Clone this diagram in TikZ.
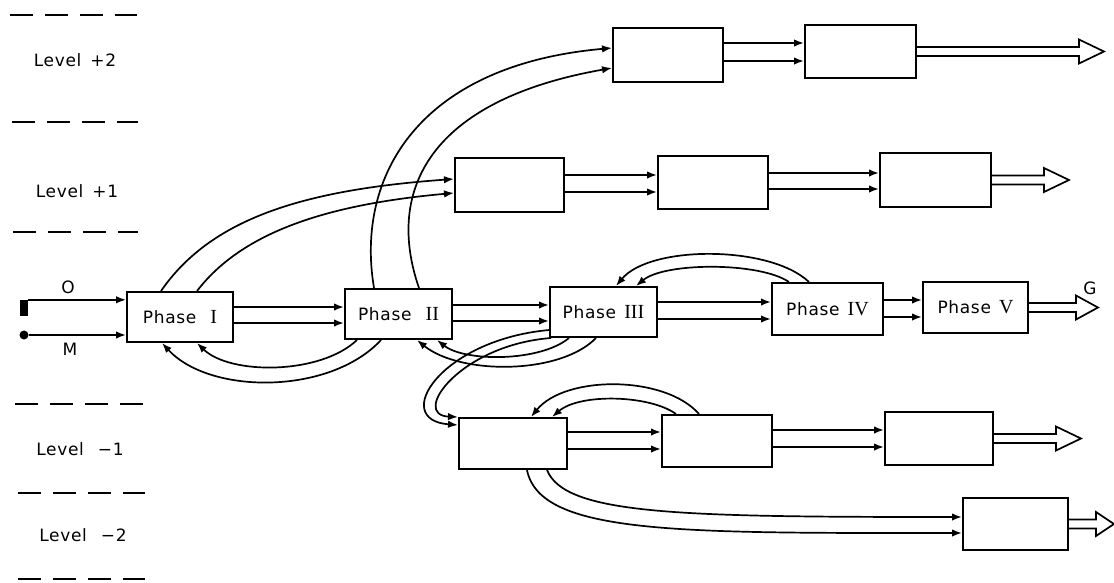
\documentclass[tikz,border=0pt]{standalone}
\usepackage{fontspec}
\setmainfont{DejaVu Sans}[LetterSpace=4]
\newfontfamily\numfont{Liberation Serif}
\usetikzlibrary{arrows.meta,calc}
\newcommand\pairs[4]{%
  \coordinate (s1) at ($(#1.east)+(0,#3)$);
  \coordinate (s2) at ($(#1.east)+(0,#4)$);
  \draw[arr] (s1) -- (s1 -| #2.west);
  \draw[arr] (s2) -- (s2 -| #2.west);}
\newcommand\openarr[3]{%
  \draw[openline] ($(#1.east)+(0,-4.5)$) -- ++(#2,0) -- ++(0,-7.5) -- ++(#3,12)
    -- ++(-#3,12) -- ++(0,-7.5) -- ($(#1.east)+(0,4.5)$);}
\newcommand\rn[1]{{\numfont\fontsize{20}{21}\selectfont #1}}
\begin{document}
\begin{tikzpicture}[x=1pt,y=-1pt,
  box/.style={draw, line width=2pt, inner sep=2pt, font=\fontsize{17}{20}\selectfont},
  arr/.style={line width=1.7pt, -{Latex[length=10pt,width=7.5pt]}},
  openline/.style={line width=1.7pt, line join=miter},
  lvl/.style={line width=1.9pt, dash pattern=on 23pt off 12pt},
  lbl/.style={font=\fontsize{17}{20}\selectfont, inner sep=1pt}]
\useasboundingbox (0,0) rectangle (1114,582);
% level separators and labels
\draw[lvl] (10,15) -- (137,15);
\draw[lvl] (12,122) -- (138,122);
\draw[lvl] (13,232) -- (138,232);
\draw[lvl] (15,404) -- (145,404);
\draw[lvl] (18,493) -- (145,493);
\draw[lvl] (18,579) -- (145,579);
\node[lbl] (L2) at (75,60) {Level \hspace{3pt}+2};
\node[lbl] (L1) at (77,191) {Level \hspace{3pt}+1};
\node[lbl] (Lm1) at (80,449) {Level \hspace{8pt}−1};
\node[lbl] (Lm2) at (83,535) {Level \hspace{8pt}−2};
% phase boxes
\node[box, minimum width=106pt, minimum height=50pt] (P1) at (180,317) {Phase \hspace{8pt}\rn{I}};
\node[box, minimum width=107pt, minimum height=50pt] (P2) at (398.5,314) {Phase \hspace{8pt}\rn{II}};
\node[box, minimum width=107pt, minimum height=50pt] (P3) at (603.5,312) {Phase \hspace{2pt}\rn{III}};
\node[box, minimum width=111pt, minimum height=52pt] (P4) at (827.5,309) {Phase \hspace{2pt}\rn{IV}};
\node[box, minimum width=105pt, minimum height=51pt] (P5) at (975.5,307.5) {Phase \hspace{2pt}\rn{V}};
% other levels
\node[box, minimum width=110pt, minimum height=54pt] (A2) at (668,55) {};
\node[box, minimum width=111pt, minimum height=53pt] (B2) at (860.5,51.5) {};
\node[box, minimum width=109pt, minimum height=54pt] (A1) at (509.5,185) {};
\node[box, minimum width=110pt, minimum height=53pt] (B1) at (713,182.5) {};
\node[box, minimum width=111pt, minimum height=54pt] (C1) at (935.5,180) {};
\node[box, minimum width=108pt, minimum height=51pt] (Am1) at (513,443.5) {};
\node[box, minimum width=110pt, minimum height=52pt] (Bm1) at (717,441) {};
\node[box, minimum width=108pt, minimum height=53pt] (Cm1) at (939,438.5) {};
\node[box, minimum width=105pt, minimum height=52pt] (Dm2) at (1015.5,524) {};
% inputs
\node[fill=black, minimum width=8pt, minimum height=16pt, inner sep=0pt] (src) at (24,308) {};
\node[circle, fill=black, minimum size=9pt, inner sep=0pt] (dot) at (24,335) {};
\node[lbl] (O) at (68,287) {O};
\node[lbl] (M) at (70,349) {M};
\draw[arr] (src.north east) -- (src.north east -| P1.west);
\draw[arr] (dot.east) -- (dot.east -| P1.west);
% straight pairs
\pairs{P1}{P2}{-10}{6}
\pairs{P2}{P3}{-9}{7}
\pairs{P3}{P4}{-10}{7}
\pairs{P4}{P5}{-9}{8}
\pairs{A2}{B2}{-12}{6}
\pairs{A1}{B1}{-10}{7}
\pairs{B1}{C1}{-9.5}{6.5}
\pairs{Am1}{Bm1}{-11.5}{5.5}
\pairs{Bm1}{Cm1}{-11}{6}
% open output arrows
\openarr{B2}{162}{25}
\openarr{C1}{52}{25}
\openarr{P5}{47}{22}
\node[lbl] (G) at (1090,288) {G};
\openarr{Cm1}{62}{25}
\openarr{Dm2}{27}{18}
% curved connectors
\draw[arr] ([xshift=35pt]P1.north west) .. controls (210,220) and (300,190) .. ([yshift=6pt]A1.west);
\draw[arr] ([xshift=71pt]P1.north west) .. controls (240,235) and (320,205) .. ([yshift=-8pt]A1.west);
\draw[arr] ([xshift=30pt]P2.north west) .. controls (355,175) and (420,65) .. ([yshift=7pt]A2.west);
\draw[arr] ([xshift=75pt]P2.north west) .. controls (385,190) and (430,100) .. ([yshift=-13pt]A2.west);
\draw[arr] ([xshift=37pt]P2.south west) .. controls (330,395) and (210,395) .. ([xshift=36pt]P1.south west);
\draw[arr] ([xshift=13pt]P2.south west) .. controls (320,375) and (230,375) .. ([xshift=71pt]P1.south west);
\draw[arr] ([xshift=47pt]P3.south west) .. controls (560,375) and (460,375) .. ([xshift=73pt]P2.south west);
\draw[arr] ([xshift=20pt]P3.south west) .. controls (540,362) and (465,362) .. ([xshift=93pt]P2.south west);
\draw[arr] ([yshift=-18pt]P3.west) .. controls (440,340) and (390,420) .. ([yshift=-8pt]Am1.north west);
\draw[arr] ([xshift=2pt]P3.south west) .. controls (460,345) and (410,415) .. (Am1.north west);
\draw[arr] ([xshift=38pt]P4.north west) .. controls (770,245) and (650,245) .. ([xshift=67pt]P3.north west);
\draw[arr] ([xshift=18pt]P4.north west) .. controls (760,262) and (665,262) .. ([xshift=87pt]P3.north west);
\draw[arr] ([xshift=38pt]Bm1.north west) .. controls (665,375) and (565,375) .. ([xshift=73pt]Am1.north west);
\draw[arr] ([xshift=15pt]Bm1.north west) .. controls (650,395) and (580,393) .. ([xshift=94pt]Am1.north west);
\draw[arr] ([xshift=69pt]Am1.south west) .. controls (540,535) and (680,533) .. ([yshift=-9pt]Dm2.west);
\draw[arr] ([xshift=89pt]Am1.south west) .. controls (565,515) and (680,517) .. ([yshift=7pt]Dm2.west);
\end{tikzpicture}
\end{document}
